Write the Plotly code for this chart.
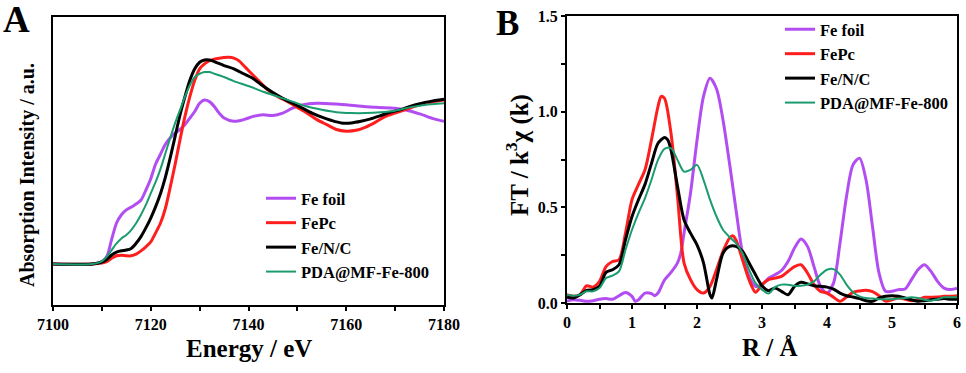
"""
Fe K-edge XANES (A) and FT-EXAFS (B) — two-panel figure
"""

import plotly.graph_objects as go

# ---- panel A: XANES ----
energy_foil = [7100, 7108, 7110, 7111, 7112, 7113, 7114, 7115, 7116.5, 7118, 7119, 7120, 7121, 7122,
               7123, 7124, 7125, 7126, 7127, 7128, 7129, 7130, 7131, 7132, 7133, 7134, 7135, 7137,
               7139, 7141, 7143, 7145, 7147, 7149, 7151, 7154, 7158, 7162, 7166, 7170, 7172, 7175,
               7178, 7180]
mu_foil = [0, 0, 0.015, 0.045, 0.15, 0.25, 0.30, 0.33, 0.355, 0.39, 0.45, 0.52, 0.61, 0.67,
           0.73, 0.77, 0.80, 0.82, 0.85, 0.89, 0.93, 0.98, 1.00, 0.99, 0.96, 0.92, 0.89, 0.87,
           0.88, 0.90, 0.91, 0.905, 0.92, 0.95, 0.97, 0.98, 0.975, 0.965, 0.955, 0.95, 0.94, 0.915,
           0.885, 0.87]

energy_fepc = [7100, 7108, 7110, 7111, 7112, 7113, 7114, 7115, 7116, 7117, 7118, 7119, 7120, 7121,
               7122, 7123, 7124, 7125, 7126, 7127, 7128, 7129, 7130, 7131, 7132, 7134, 7136, 7137,
               7138, 7139, 7140, 7142, 7144, 7146, 7148, 7150, 7152, 7154, 7156, 7158, 7160, 7162,
               7164, 7166, 7168, 7170, 7172, 7175, 7178, 7180]
mu_fepc = [0, 0, 0.006, 0.015, 0.035, 0.05, 0.053, 0.05, 0.05, 0.06, 0.08, 0.105, 0.135, 0.19,
           0.25, 0.34, 0.47, 0.61, 0.76, 0.90, 1.02, 1.12, 1.19, 1.22, 1.24, 1.255, 1.26, 1.255,
           1.24, 1.21, 1.18, 1.12, 1.06, 1.02, 0.99, 0.955, 0.92, 0.88, 0.85, 0.82, 0.81, 0.815,
           0.835, 0.865, 0.90, 0.92, 0.94, 0.97, 0.99, 1.00]

energy_fenc = [7100, 7108, 7110, 7111, 7112, 7113, 7114, 7115, 7116, 7117, 7118, 7119, 7120, 7121,
               7122, 7123, 7124, 7125, 7126, 7127, 7128, 7129, 7130, 7131, 7132, 7133, 7135, 7137,
               7139, 7141, 7143, 7145, 7147, 7149, 7151, 7153, 7155, 7157, 7159, 7161, 7163, 7165,
               7167, 7169, 7171, 7174, 7177, 7180]
mu_fenc = [0, 0, 0.012, 0.028, 0.055, 0.073, 0.081, 0.085, 0.095, 0.126, 0.167, 0.22, 0.28, 0.35,
           0.43, 0.53, 0.65, 0.78, 0.91, 1.02, 1.12, 1.19, 1.23, 1.244, 1.244, 1.234, 1.21, 1.19,
           1.16, 1.13, 1.085, 1.045, 1.01, 0.98, 0.95, 0.92, 0.895, 0.875, 0.86, 0.86, 0.87, 0.885,
           0.905, 0.925, 0.94, 0.97, 0.99, 1.004]

energy_pda = [7100, 7108, 7110, 7111, 7112, 7113, 7114, 7115, 7116, 7117, 7118, 7119, 7120, 7121,
              7122, 7123, 7124, 7125, 7126, 7127, 7128, 7129, 7130, 7131, 7132, 7133, 7135, 7137,
              7140, 7143, 7146, 7149, 7152, 7155, 7158, 7161, 7164, 7167, 7170, 7173, 7176, 7180]
mu_pda = [0, 0, 0.016, 0.045, 0.085, 0.126, 0.156, 0.177, 0.207, 0.248, 0.30, 0.36, 0.43, 0.50,
          0.58, 0.675, 0.77, 0.86, 0.94, 1.02, 1.09, 1.14, 1.16, 1.17, 1.17, 1.16, 1.14, 1.115,
          1.085, 1.05, 1.02, 0.99, 0.96, 0.94, 0.925, 0.92, 0.92, 0.925, 0.935, 0.955, 0.97, 0.98]

# ---- panel B: FT magnitude ----
r_grid = [0, 0.1, 0.2, 0.3, 0.4, 0.5, 0.6, 0.7, 0.8, 0.9, 1.0, 1.1, 1.2, 1.3, 1.4, 1.5, 1.6, 1.7,
          1.8, 1.9, 2.0, 2.1, 2.2, 2.3, 2.4, 2.5, 2.6, 2.7, 2.8, 2.9, 3.0, 3.1, 3.2, 3.3, 3.4, 3.5,
          3.6, 3.7, 3.8, 3.9, 4.0, 4.1, 4.2, 4.3, 4.4, 4.5, 4.6, 4.7, 4.8, 4.9, 5.0, 5.1, 5.2, 5.3,
          5.4, 5.5, 5.6, 5.7, 5.8, 5.9, 6.0]

r_foil = [0, 0.1, 0.2, 0.3, 0.4, 0.5, 0.6, 0.7, 0.8, 0.9, 1.0, 1.05, 1.1, 1.2, 1.3, 1.35, 1.4,
          1.5, 1.6, 1.7, 1.75, 1.8, 1.9, 2.0, 2.1, 2.2, 2.3, 2.4, 2.5, 2.6, 2.7, 2.8, 2.9, 3.0,
          3.1, 3.2, 3.3, 3.4, 3.5, 3.6, 3.7, 3.8, 3.9, 4.0, 4.1, 4.2, 4.3, 4.4, 4.5, 4.6, 4.7,
          4.8, 4.9, 5.0, 5.1, 5.2, 5.3, 5.4, 5.5, 5.6, 5.7, 5.8, 5.9, 6.0]
ft_foil = [0.01, 0.017, 0.014, 0.009, 0.012, 0.02, 0.023, 0.02, 0.038, 0.055, 0.035, 0.009, 0.017,
           0.052, 0.049, 0.038, 0.052, 0.12, 0.16, 0.21, 0.26, 0.365, 0.574, 0.85, 1.08, 1.175,
           1.12, 0.957, 0.73, 0.487, 0.26, 0.139, 0.087, 0.096, 0.13, 0.148, 0.17, 0.217, 0.287,
           0.334, 0.296, 0.19, 0.087, 0.052, 0.104, 0.313, 0.557, 0.722, 0.757, 0.644, 0.40,
           0.157, 0.061, 0.061, 0.07, 0.073, 0.122, 0.174, 0.20, 0.165, 0.113, 0.078, 0.07, 0.078]

r_fepc = [0, 0.1, 0.2, 0.3, 0.4, 0.5, 0.6, 0.7, 0.8, 0.9, 1.0, 1.1, 1.2, 1.3, 1.4, 1.45, 1.5,
          1.6, 1.7, 1.8, 1.9, 2.0, 2.1, 2.2, 2.3, 2.4, 2.5, 2.55, 2.6, 2.7, 2.8, 2.9, 3.0, 3.1,
          3.2, 3.3, 3.4, 3.5, 3.6, 3.7, 3.8, 3.9, 4.0, 4.1, 4.2, 4.3, 4.4, 4.5, 4.6, 4.7, 4.8,
          4.9, 5.0, 5.1, 5.2, 5.3, 5.4, 5.5, 5.6, 5.7, 5.8, 5.9, 6.0]
ft_fepc = [0.043, 0.035, 0.043, 0.09, 0.083, 0.113, 0.19, 0.217, 0.226, 0.365, 0.54, 0.62, 0.696,
           0.853, 1.027, 1.08, 1.07, 0.887, 0.557, 0.21, 0.122, 0.07, 0.052, 0.087, 0.174, 0.27,
           0.339, 0.352, 0.33, 0.226, 0.122, 0.056, 0.096, 0.122, 0.13, 0.139, 0.165, 0.19, 0.20,
           0.157, 0.096, 0.061, 0.052, 0.03, 0.009, 0.031, 0.056, 0.063, 0.066, 0.059, 0.038,
           0.01, 0.017, 0.026, 0.02, 0.012, 0.017, 0.03, 0.03, 0.031, 0.035, 0.035, 0.038]

r_fenc = [0, 0.1, 0.2, 0.3, 0.4, 0.5, 0.6, 0.7, 0.8, 0.9, 1.0, 1.1, 1.2, 1.3, 1.4, 1.5, 1.55,
          1.6, 1.7, 1.8, 1.9, 2.0, 2.1, 2.2, 2.23, 2.3, 2.4, 2.5, 2.6, 2.7, 2.8, 2.9, 3.0, 3.1,
          3.2, 3.3, 3.4, 3.5, 3.6, 3.7, 3.8, 3.9, 4.0, 4.1, 4.2, 4.3, 4.4, 4.5, 4.6, 4.7, 4.8,
          4.9, 5.0, 5.1, 5.2, 5.3, 5.4, 5.5, 5.6, 5.7, 5.8, 5.9, 6.0]
ft_fenc = [0.03, 0.026, 0.043, 0.066, 0.07, 0.087, 0.16, 0.174, 0.20, 0.33, 0.452, 0.54, 0.62,
           0.73, 0.835, 0.865, 0.853, 0.80, 0.61, 0.435, 0.365, 0.304, 0.21, 0.043, 0.026, 0.122,
           0.26, 0.296, 0.296, 0.27, 0.21, 0.148, 0.09, 0.064, 0.078, 0.061, 0.043, 0.087, 0.108,
           0.10, 0.09, 0.087, 0.083, 0.073, 0.052, 0.038, 0.031, 0.023, 0.012, 0.009, 0.026,
           0.035, 0.038, 0.035, 0.026, 0.017, 0.009, 0.012, 0.017, 0.02, 0.023, 0.02, 0.02]

ft_pda = [0.043, 0.038, 0.043, 0.061, 0.061, 0.078, 0.13, 0.143, 0.165, 0.278, 0.383, 0.47,
          0.548, 0.644, 0.748, 0.806, 0.809, 0.748, 0.687, 0.696, 0.722, 0.644, 0.54, 0.452,
          0.383, 0.345, 0.313, 0.26, 0.174, 0.104, 0.07, 0.049, 0.083, 0.096, 0.096, 0.09, 0.09,
          0.096, 0.113, 0.148, 0.174, 0.177, 0.148, 0.096, 0.056, 0.035, 0.026, 0.023, 0.02,
          0.02, 0.02, 0.023, 0.026, 0.03, 0.026, 0.017, 0.012, 0.02, 0.03, 0.03, 0.03]

names = ["Fe foil", "FePc", "Fe/N/C", "PDA@MF-Fe-800"]
colors = ["#B24DF2", "#FF1E1E", "#000000", "#1A9C6E"]
widths = [3, 3, 3, 2]

FONT = "Liberation Serif"
W, H = 966, 373

fig = go.Figure()

xanes = [(energy_foil, mu_foil), (energy_fepc, mu_fepc), (energy_fenc, mu_fenc), (energy_pda, mu_pda)]
exafs = [(r_foil, ft_foil), (r_fepc, ft_fepc), (r_fenc, ft_fenc), (r_grid, ft_pda)]

for (x, y), name, c, w in zip(xanes, names, colors, widths):
    fig.add_trace(go.Scatter(x=x, y=y, mode="lines", name=name, legend="legend",
                             line=dict(color=c, width=w, shape="spline", smoothing=0.8),
                             xaxis="x", yaxis="y"))
for (x, y), name, c, w in zip(exafs, names, colors, widths):
    fig.add_trace(go.Scatter(x=x, y=y, mode="lines", name=name, legend="legend2",
                             line=dict(color=c, width=w, shape="spline", smoothing=0.8),
                             xaxis="x2", yaxis="y2"))

tick_font = dict(family=FONT, size=16, color="black", weight="bold")
legend_font = dict(family=FONT, size=16.5, color="black", weight="bold")
minor_ticks = dict(ticks="outside", ticklen=4, tickwidth=2, tickcolor="black")


def axis(**kw):
    base = dict(showline=True, linecolor="black", linewidth=2, mirror=True, automargin=False,
                showgrid=False, zeroline=False, ticks="outside", ticklen=4, tickwidth=2,
                tickcolor="black", tickfont=tick_font)
    base.update(kw)
    return base


fig.update_layout(
    width=W, height=H,
    margin=dict(l=0, r=0, t=0, b=0, pad=0, autoexpand=False),
    paper_bgcolor="#FFFFFF", plot_bgcolor="#FFFFFF",
    xaxis=axis(domain=[53 / W, 444 / W], range=[7100, 7180], dtick=20, tick0=7100,
               minor=dict(dtick=10, **minor_ticks), anchor="y"),
    yaxis=axis(domain=[1 - 305 / H, 1 - 17 / H], range=[-0.25, 1.506], anchor="x",
               showticklabels=False, ticks=""),
    xaxis2=axis(domain=[567 / W, 957 / W], range=[0, 6], dtick=1, tick0=0,
                minor=dict(dtick=0.5, **minor_ticks), anchor="y2"),
    yaxis2=axis(domain=[1 - 303 / H, 1 - 16 / H], range=[0, 1.5], dtick=0.5, tick0=0,
                tickformat=".1f", minor=dict(dtick=0.25, **minor_ticks), anchor="x2"),
    legend=dict(x=261 / W, y=1 - 181 / H, xanchor="left", yanchor="top",
                bgcolor="rgba(0,0,0,0)", borderwidth=0, font=legend_font, tracegroupgap=0),
    legend2=dict(x=780 / W, y=1 - 12 / H, xanchor="left", yanchor="top",
                 bgcolor="rgba(0,0,0,0)", borderwidth=0, font=legend_font, tracegroupgap=0),
    showlegend=True,
)

title_font = dict(family=FONT, color="black", weight="bold")
labels = [
    ("Energy / eV", 249, 348, 0, 25),
    ("Absorption Intensity / a.u.", 27, 175, -90, 20),
    ("R / Å", 770, 347, 0, 25),
    ("FT / k<sup>3</sup>χ (k)", 517, 155, -90, 25),
    ("A", 16, 19, 0, 37),
    ("B", 507, 23, 0, 35),
]
for text, px, py, ang, size in labels:
    fig.add_annotation(text=text, x=px / W, y=1 - py / H, xref="paper", yref="paper",
                       xanchor="center", yanchor="middle", textangle=ang,
                       showarrow=False, font=dict(size=size, **title_font))

# the page body has a default 8px margin; drop it so the figure fills the window
fig.write_html("out.html", config={"displayModeBar": False},
               post_script="document.body.style.margin = '0px';")
